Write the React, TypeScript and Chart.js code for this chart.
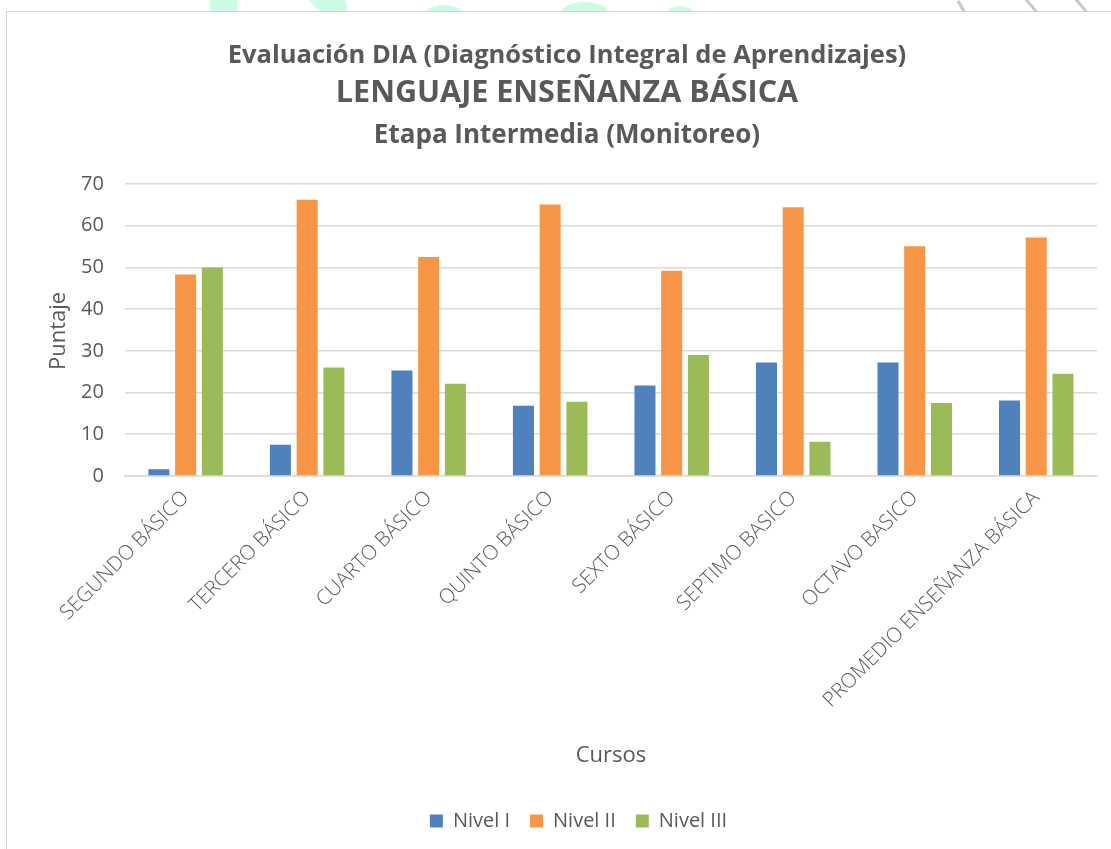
import React, { useEffect, useRef } from "react";
import { Chart, registerables } from "chart.js";

Chart.register(...registerables);

const TITLE_LINES = [
  "Evaluación DIA (Diagnóstico Integral de Aprendizajes)",
  "LENGUAJE ENSEÑANZA BÁSICA",
  "Etapa Intermedia (Monitoreo)",
];
const Y_TITLE = "Puntaje";
const X_TITLE = "Cursos";

const categories = [
  "SEGUNDO BÁSICO",
  "TERCERO BÁSICO",
  "CUARTO BÁSICO",
  "QUINTO BÁSICO",
  "SEXTO BÁSICO",
  "SEPTIMO BASICO",
  "OCTAVO BASICO",
  "PROMEDIO ENSEÑANZA BÁSICA",
];

const nivelI = [1.6, 7.5, 25.3, 16.8, 21.7, 27.2, 27.2, 18.1];
const nivelII = [48.3, 66.2, 52.5, 65.1, 49.2, 64.4, 55.1, 57.2];
const nivelIII = [50.0, 26.0, 22.1, 17.8, 29.0, 8.2, 17.5, 24.5];

const seriesNames = ["Nivel I", "Nivel II", "Nivel III"];
const seriesColors = ["#4F81BD", "#F79646", "#9BBB59"];

const FONT = "'Open Sans', 'DejaVu Sans', sans-serif";
const TEXT = "#595959";

const titlePlugin = {
  id: "multiTitle",
  afterDraw(chart: any) {
    const ctx = chart.ctx;
    const cx = chart.width / 2;
    ctx.save();
    ctx.fillStyle = TEXT;
    ctx.textAlign = "center";
    ctx.textBaseline = "middle";
    const specs = [
      { size: 25.5, y: 44 },
      { size: 30.5, y: 81 },
      { size: 26, y: 124 },
    ];
    TITLE_LINES.forEach((t, i) => {
      ctx.font = `bold ${specs[i].size}px ${FONT}`;
      ctx.fillText(t, cx, specs[i].y);
    });
    // y-axis title
    const area = chart.chartArea;
    ctx.font = `22px ${FONT}`;
    ctx.translate(52, (area.top + area.bottom) / 2 + 1);
    ctx.rotate(-Math.PI / 2);
    ctx.fillText(Y_TITLE, 0, 0);
    ctx.restore();
  },
};

export default function App() {
  const ref = useRef<HTMLCanvasElement | null>(null);

  useEffect(() => {
    if (!ref.current) return;
    const data = [nivelI, nivelII, nivelIII];
    const chart = new Chart(ref.current, {
      type: "bar",
      data: {
        labels: categories,
        datasets: seriesNames.map((name, i) => ({
          label: name,
          data: data[i],
          backgroundColor: seriesColors[i],
          borderWidth: 0,
          categoryPercentage: 0.66,
          barPercentage: 0.787,
        })),
      },
      options: {
        responsive: false,
        animation: false,
        layout: { padding: { top: 172, left: 53, right: 30, bottom: 11 } },
        plugins: {
          title: { display: false },
          tooltip: { enabled: false },
          legend: {
            position: "bottom",
            labels: {
              color: TEXT,
              font: { family: FONT, size: 20 },
              boxWidth: 13,
              boxHeight: 13,
              padding: 20,
            },
          },
        },
        scales: {
          x: {
            grid: { display: false, drawTicks: false },
            border: { color: "#D9D9D9", width: 1.5 },
            ticks: {
              color: TEXT,
              font: { family: FONT, size: 20.5, weight: 300 as any },
              minRotation: 45,
              maxRotation: 45,
              padding: 10,
              autoSkip: false,
            },
            title: {
              display: true,
              text: X_TITLE,
              color: TEXT,
              font: { family: FONT, size: 22 },
              padding: { top: 20, bottom: 22 },
            },
          },
          y: {
            min: 0,
            max: 70,
            ticks: {
              stepSize: 10,
              color: TEXT,
              font: { family: FONT, size: 20 },
              padding: 21,
            },
            grid: { color: "#D9D9D9", lineWidth: 1.5, drawTicks: false },
            border: { display: false },
          },
        },
      },
      plugins: [titlePlugin],
    });
    return () => chart.destroy();
  }, []);

  const mint = "#CCFBE4";
  return (
    <div
      style={{
        position: "absolute",
        left: 0,
        top: 0,
        width: 1111,
        height: 849,
        overflow: "hidden",
        background: "#fff",
      }}
    >
      <div style={{ position: "absolute", left: 210, top: -2, width: 27, height: 16, background: mint }} />
      <div style={{ position: "absolute", left: 312, top: -6, width: 36, height: 22, background: mint, borderRadius: "0 0 18px 18px", transform: "skewX(30deg)" }} />
      <div style={{ position: "absolute", left: 425, top: 5, width: 38, height: 20, background: mint, borderRadius: "50%" }} />
      <div style={{ position: "absolute", left: 560, top: 2, width: 50, height: 26, background: mint, borderRadius: "50%" }} />
      <div style={{ position: "absolute", left: 665, top: 6, width: 30, height: 20, background: mint, borderRadius: "50%" }} />
      <div style={{ position: "absolute", left: 960, top: 0, width: 3, height: 14, background: "#C8C8C8", transform: "rotate(-30deg)" }} />
      <div style={{ position: "absolute", left: 1030, top: -4, width: 3, height: 20, background: "#C8C8C8", transform: "rotate(-40deg)" }} />
      <div style={{ position: "absolute", left: 1080, top: -4, width: 3, height: 20, background: "#C8C8C8", transform: "rotate(-40deg)" }} />
      <div
        style={{
          position: "absolute",
          left: 6,
          top: 11,
          width: 1130,
          height: 850,
          border: "1.5px solid #D4D4D4",
          background: "#fff",
        }}
      >
        <canvas
          ref={ref}
          width={1120}
          height={840}
          style={{ position: "absolute", left: 0, top: 0, display: "block" }}
        />
      </div>
    </div>
  );
}
